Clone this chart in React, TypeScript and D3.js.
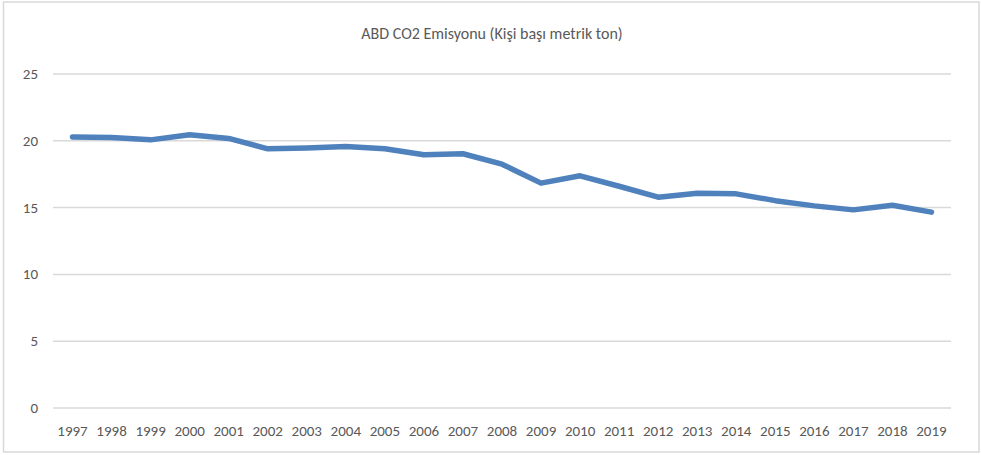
import React from "react";
import * as d3 from "d3";

const years = ["1997","1998","1999","2000","2001","2002","2003","2004","2005","2006","2007","2008","2009","2010","2011","2012","2013","2014","2015","2016","2017","2018","2019"];
const emissions = [20.28, 20.25, 20.07, 20.45, 20.18, 19.4, 19.47, 19.57, 19.4, 18.95, 19.03, 18.25, 16.83, 17.38, 16.6, 15.78, 16.08, 16.03, 15.52, 15.13, 14.83, 15.18, 14.66];
const yTicks = [0, 5, 10, 15, 20, 25];
const title = "ABD CO2 Emisyonu (Kişi başı metrik ton)";

export default function App() {
  const W = 981, H = 455;
  const left = 53, right = 951, top = 74, bottom = 408;
  const x = d3.scaleBand<string>().domain(years).range([left, right]);
  const y = d3.scaleLinear().domain([0, 25]).range([bottom, top]);
  const line = d3.line<number>()
    .x((_, i) => (x(years[i]) as number) + x.bandwidth() / 2)
    .y((d) => y(d));
  const font = "Calibri, Carlito, 'Open Sans', sans-serif";
  return (
    <svg width={W} height={H} style={{ position: "absolute", left: 0, top: 0, background: "#fff" }}>
      <rect x={3.5} y={2} width={975.5} height={450} fill="#fff" stroke="#d9d9d9" strokeWidth={1.5} />
      <text x={492} y={39} textAnchor="middle" fontFamily={font} fontSize={16} fill="#595959">{title}</text>
      {yTicks.map((t) => (
        <g key={t}>
          <line x1={left} x2={right} y1={y(t)} y2={y(t)} stroke="#d9d9d9" strokeWidth={1.5} />
          <text x={38} y={y(t) + 5} textAnchor="end" fontFamily={font} fontSize={15} fill="#595959">{t}</text>
        </g>
      ))}
      {years.map((yr) => (
        <text key={yr} x={(x(yr) as number) + x.bandwidth() / 2} y={436} textAnchor="middle" fontFamily={font} fontSize={15} fill="#595959">{yr}</text>
      ))}
      <path d={line(emissions) || ""} fill="none" stroke="#4f81bd" strokeWidth={5.5} strokeLinecap="round" strokeLinejoin="round" />
    </svg>
  );
}
